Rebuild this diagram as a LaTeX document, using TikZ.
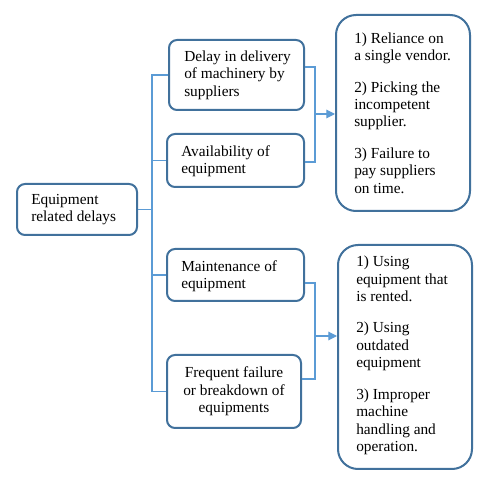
\documentclass[tikz,border=0pt]{standalone}
\usepackage{fontspec}
\setmainfont{Liberation Serif}
\usetikzlibrary{arrows.meta,calc}
\definecolor{boxline}{HTML}{41719C}
\definecolor{connline}{HTML}{5B9BD5}
\begin{document}
\begin{tikzpicture}[x=0.75pt,y=-0.75pt,
  box/.style={draw=boxline,line width=1.5pt,rounded corners=6pt,inner sep=0pt},
  bigbox/.style={box,rounded corners=15pt},
  txt/.style={font=\fontsize{11.5}{13.1}\selectfont,align=left,inner sep=0pt,anchor=west},
  conn/.style={draw=connline,line width=0.8pt},
  arr/.style={conn,-{Triangle[length=6.5pt,width=6.5pt]}}]
\useasboundingbox (0,0) rectangle (486,477);
\node[box,minimum width=120*0.75pt,minimum height=51*0.75pt] (root) at (77,209.5) {};
\node[txt] (roott) at ($(root.west)+(15,0)$) {Equipment\\related delays};
\node[box,minimum width=135*0.75pt,minimum height=70*0.75pt] (b1) at (236.5,75) {};
\node[txt] (b1t) at ($(b1.west)+(16,0)$) {Delay in delivery\\of machinery by\\suppliers};
\node[box,minimum width=137*0.75pt,minimum height=53*0.75pt] (b2) at (235.5,160.5) {};
\node[txt] (b2t) at ($(b2.west)+(15,1)$) {Availability of\\equipment};
\node[box,minimum width=137*0.75pt,minimum height=52*0.75pt] (b3) at (235.5,275) {};
\node[txt] (b3t) at ($(b3.west)+(15,1)$) {Maintenance of\\equipment};
\node[box,minimum width=134*0.75pt,minimum height=73*0.75pt,
  font=\fontsize{11.5}{13.1}\selectfont,align=center] (b4) at (234,391.5)
  {Frequent failure\\or breakdown of\\equipments};
\node[bigbox,minimum width=134*0.75pt,minimum height=196*0.75pt] (rt) at (403,113) {};
\node[txt] (rtt) at ($(rt.west)+(19,0)$)
  {1) Reliance on\\a single vendor.\\[10.5pt]2) Picking the\\incompetent\\supplier.\\[10.5pt]3) Failure to\\pay suppliers\\on time.};
\node[bigbox,minimum width=134*0.75pt,minimum height=224*0.75pt] (rb) at (405,357) {};
\node[txt] (rbt) at ($(rb.west)+(19,-1.5)$)
  {1) Using\\equipment that\\is rented.\\[10.5pt]2) Using\\outdated\\equipment\\[10.5pt]3) Improper\\machine\\handling and\\operation.};
\coordinate (trunk) at (152,0);
\coordinate (brk) at (315,0);
% left tree
\draw[conn] (b1.west) -- (b1.west -| trunk) -- (b4.west -| trunk) -- (b4.west);
\draw[conn] (b2.west) -- (b2.west -| trunk);
\draw[conn] (b3.west) -- (b3.west -| trunk);
\draw[conn] (root.east) -- (root.east -| trunk);
% top bracket
\coordinate (b1r) at ($(b1.east)+(0,-8)$);
\coordinate (b2r) at ($(b2.east)+(0,1.5)$);
\draw[conn] (b1r) -- (b1r -| brk) -- (b2r -| brk) -- (b2r);
\draw[arr] ($(brk |- rt.west)+(0,1)$) -- ($(rt.west)+(0,1)$);
% bottom bracket
\coordinate (b3r) at ($(b3.east)+(0,8)$);
\coordinate (b4r) at ($(b4.east)+(0,-12.5)$);
\draw[conn] (b3r) -- (b3r -| brk) -- (b4r -| brk) -- (b4r);
\coordinate (ab) at (0,336);
\draw[arr] (brk |- ab) -- (rb.west |- ab);
\end{tikzpicture}
\end{document}
